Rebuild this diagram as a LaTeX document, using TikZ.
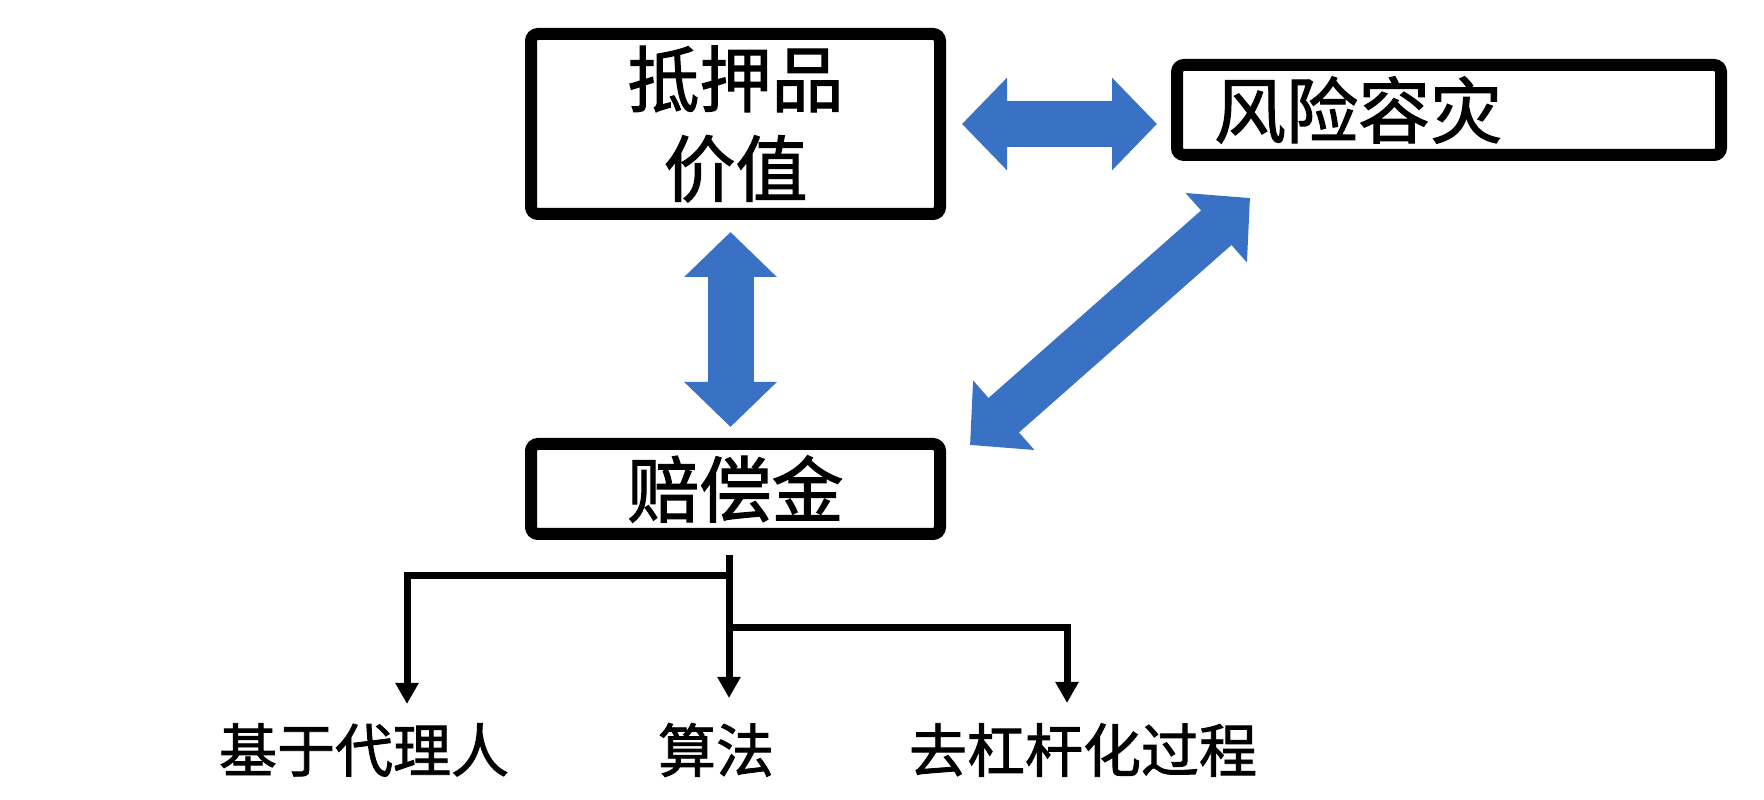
\documentclass[tikz,border=0pt]{standalone}
\usepackage{fontspec}
\newfontfamily\cjk[FakeBold=1.5]{Noto Sans CJK SC}
\usepackage{xcolor}
\usepackage{tikz}
\usetikzlibrary{arrows.meta,positioning}

\definecolor{arrowblue}{RGB}{57,114,196}

\tikzset{
	box/.style={draw,line width=0.12cm,rounded corners=2pt,inner sep=0pt,font=\cjk\fontsize{20.5}{25.5}\selectfont},
	bigarrow/.style={line width=0.46cm,arrowblue,{Triangle[length=0.45cm,width=0.9cm]}-{Triangle[length=0.45cm,width=0.9cm]}},
	treeline/.style={line width=0.07cm,-{Triangle[length=0.21cm,width=0.22cm]}},
	leaf/.style={font=\cjk\fontsize{16.5}{20}\selectfont}
}

\begin{document}
\begin{tikzpicture}
		\useasboundingbox (0,0) rectangle (17.64,8);
		% boxes
		\node[box,minimum width=4.09cm,minimum height=1.80cm,align=center] (value) at (7.355,6.76) {抵押品\\价值};
		\node[box,minimum width=4.09cm,minimum height=0.90cm] (comp) at (7.355,3.11) {赔偿金};
		\node[box,minimum width=5.44cm,minimum height=0.90cm,text width=4.7cm,align=left] (risk) at (14.49,6.90) {风险容灾};
		% two-way arrows
		\draw[bigarrow] ([xshift=0.16cm]value.east) -- ([xshift=-0.14cm]value.east -| risk.west);
		\draw[bigarrow] ([shift={(-0.05,-0.12)}]value.south) -- ([shift={(-0.05,0.11)}]comp.north);
		\draw[bigarrow] ([shift={(0.24,-0.07)}]comp.north east) -- ([shift={(0.79,-0.37)}]risk.south west);
		% leaves
		\node[leaf] (agent) at (3.64,0.50) {基于代理人};
		\node[leaf] (algo) at (7.16,0.50) {算法};
		\node[leaf] (delev) at (10.83,0.50) {去杠杆化过程};
		\coordinate (fork) at (7.29,2.45);
		\coordinate (joinL) at (7.29,2.24);
		\coordinate (joinR) at (7.29,1.72);
		\coordinate (tipAgent) at (4.07,0.96);
		\coordinate (tipAlgo) at (7.29,1.02);
		\coordinate (tipDelev) at (10.67,0.97);
		\draw[treeline] (fork) -- (tipAlgo);
		\draw[treeline] (joinL) -| (tipAgent);
		\draw[treeline] (joinR) -| (tipDelev);
	\end{tikzpicture}
\end{document}
